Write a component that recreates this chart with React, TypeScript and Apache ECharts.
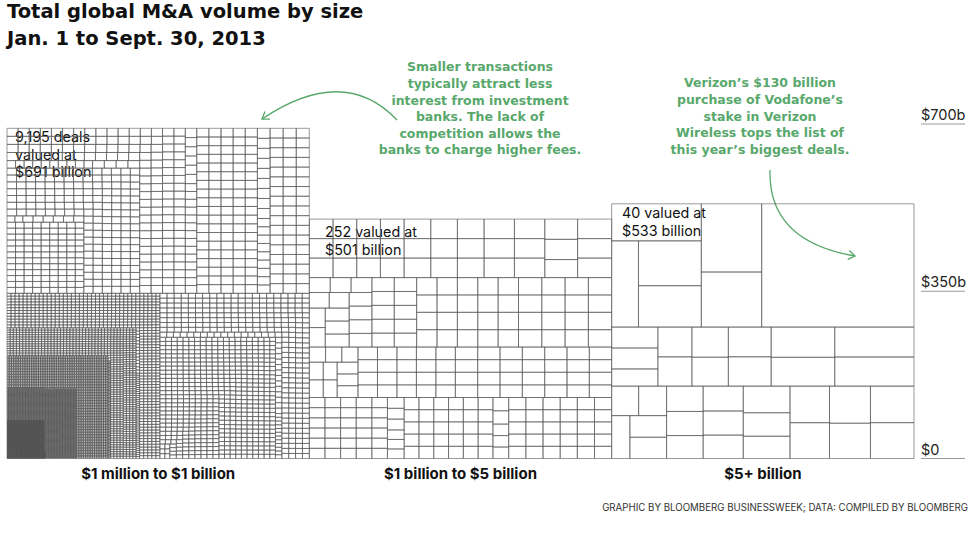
import { useEffect, useRef } from 'react'
import * as echarts from 'echarts'

const FONT = 'Inter, "Liberation Sans", Arial, sans-serif'
const WIDE = '"DejaVu Sans", Verdana, sans-serif'
const GREEN = '#58a86c'

const blockNames = ['$1 million to $1 billion', '$1 billion to $5 billion', '$5+ billion']
const blockTotals = [691, 501, 533]
const blockLabels = ['9,195 deals\nvalued at\n$691 billion', '252 valued at\n$501 billion', '40 valued at\n$533 billion']

// deals under $1b: typical size ($b) per size band, and number of deals in it
const smallDealSizes = [0.88, 0.73, 0.62, 0.45, 0.35, 0.24, 0.165, 0.08, 0.05, 0.025, 0.012, 0.004]
const smallDealCounts = [60, 110, 150, 180, 110, 300, 600, 700, 900, 1600, 2000, 2485]

// deals of $1b to $5b
const midDealSizes = [4.6, 4.1, 3.6, 3.2, 2.8, 2.45, 2.15, 1.95, 1.7, 1.45, 1.25, 1.1]
const midDealCounts = [5, 7, 9, 12, 16, 20, 24, 28, 30, 32, 36, 33]

// the 40 deals of $5b and more, read one by one, band by band from the top
const largeDealsTop = [130, 28.5, 23, 23, 19.5, 18, 16]
const largeDealsMiddle = [16.4, 16, 13.3, 12.7, 8.8, 8.7, 7.6, 7.3, 7, 6.9, 6.7, 6.7, 5.5]
const largeDealsBottom = [11, 10.8, 10.5, 10, 10, 9.8, 8.6, 7.6, 7.2, 6.9, 6.7, 6.5, 6.4, 6.1, 5.8, 5.7, 5.5, 5.5, 5.4, 5.4]

const yTicks = [0, 350, 700]
const yTickLabels = ['$0', '$350b', '$700b']

const expand = (sizes: number[], counts: number[]) =>
  sizes.flatMap((s, i) => Array(counts[i]).fill(s) as number[])
const desc = (d: number[]) => [...d].sort((a, b) => b - a)
const within = (d: number[], lo: number, hi: number) => desc(d.filter((v) => v >= lo && v < hi))
const sum = (d: number[]) => d.reduce((a, b) => a + b, 0)

const smallDeals = expand(smallDealSizes, smallDealCounts)
const midDeals = expand(midDealSizes, midDealCounts)

// block -> horizontal bands -> side-by-side groups -> deals, as the picture groups them
const blockRows: number[][][][] = [
  [[within(smallDeals, 0.3, 1)], [within(smallDeals, 0, 0.1), within(smallDeals, 0.1, 0.3)]],
  [[within(midDeals, 3, 5)], [within(midDeals, 2.1, 3)], [within(midDeals, 1.6, 2.1)], [within(midDeals, 1, 1.6)]],
  [[desc(largeDealsTop)], [desc(largeDealsMiddle)], [desc(largeDealsBottom)]],
]
const blockDeals = blockRows.map((rows) => rows.flat(2))

type Cell = { x: number; y: number; w: number; h: number }

// squarified treemap aiming at brick-shaped cells: big cells top-right, small ones bottom-left
function squarify(values: number[], x0: number, y0: number, W: number, H: number, target: number): Cell[] {
  const k = (W * H) / sum(values)
  const areas = values.map((v) => v * k)
  const cells: Cell[] = []
  let x = x0
  let y = y0
  let w = W
  let h = H
  let i = 0
  const bad = (r: number) => (r > 1 ? r : 1 / r)
  const worst = (first: number, last: number, s: number, column: boolean) => {
    if (column) {
      const cw = s / h
      return Math.max(bad((cw * cw) / first / target), bad((cw * cw) / last / target))
    }
    const rh = s / w
    return Math.max(bad(first / (rh * rh) / target), bad(last / (rh * rh) / target))
  }
  while (i < areas.length) {
    const column = w > h
    let j = i + 1
    let s = areas[i]
    let best = worst(areas[i], areas[i], s, column)
    while (j < areas.length) {
      const next = worst(areas[i], areas[j], s + areas[j], column)
      if (next > best) break
      best = next
      s += areas[j]
      j++
    }
    if (column) {
      const cw = s / h
      let cy = y
      for (let n = i; n < j; n++) {
        const ch = areas[n] / cw
        cells.push({ x: x + w - cw, y: cy, w: cw, h: ch })
        cy += ch
      }
      w -= cw
    } else {
      const rh = s / w
      let cx = x + w
      for (let n = i; n < j; n++) {
        const cw = areas[n] / rh
        cx -= cw
        cells.push({ x: cx, y, w: cw, h: rh })
      }
      y += rh
      h -= rh
    }
    i = j
  }
  return cells
}

const layoutCache: Record<string, Cell[]> = {}
function getLayout(block: number, W: number, H: number) {
  const key = `${block}:${W.toFixed(2)}:${H.toFixed(2)}`
  if (!layoutCache[key]) {
    const rows = blockRows[block]
    const total = sum(rows.map((r) => sum(r.map(sum))))
    const cells: Cell[] = []
    let y = 0
    for (const row of rows) {
      const rowSum = sum(row.map(sum))
      const rh = (H * rowSum) / total
      let x = 0
      for (const g of row) {
        const gw = (W * sum(g)) / rowSum
        cells.push(...squarify(g, x, y, gw, rh, 1.4))
        x += gw
      }
      y += rh
    }
    layoutCache[key] = cells
  }
  return layoutCache[key]
}

const renderDeal = (params: any, api: any) => {
  const b = api.value(0) as number
  const [ux, uy] = api.size([1, 1]) as number[]
  const cells = getLayout(b, ux, uy * blockTotals[b])
  const c = cells[params.dataIndex]
  const origin = api.coord([b, blockTotals[b]])
  return {
    type: 'rect',
    silent: true,
    shape: { x: origin[0] + c.x, y: origin[1] + c.y, width: c.w, height: c.h },
    style: { fill: 'rgba(0,0,0,0)', stroke: '#555', lineWidth: 0.6 },
  }
}

const renderTick = (params: any, api: any) => {
  const p = api.coord([3, api.value(1)])
  const x = p[0] + 7
  return {
    type: 'group',
    silent: true,
    children: [
      { type: 'line', shape: { x1: x, y1: p[1], x2: x + 44, y2: p[1] }, style: { stroke: '#999', lineWidth: 1 } },
      {
        type: 'text',
        x,
        y: p[1] - 2,
        style: {
          text: yTickLabels[params.dataIndex],
          fill: '#222',
          font: `14.5px ${FONT}`,
          textAlign: 'left',
          textVerticalAlign: 'bottom',
        },
      },
    ],
  }
}

function arrowHead(tip: number[], from: number[], len = 8, spread = 0.6) {
  const a = Math.atan2(from[1] - tip[1], from[0] - tip[0])
  return [
    [tip[0] + len * Math.cos(a + spread), tip[1] + len * Math.sin(a + spread)],
    tip,
    [tip[0] + len * Math.cos(a - spread), tip[1] + len * Math.sin(a - spread)],
  ]
}

const App = () => {
  const chartRef = useRef<HTMLDivElement>(null)

  useEffect(() => {
    if (!chartRef.current) return
    const chart = echarts.init(chartRef.current, undefined, { renderer: 'svg' })

    const option = {
      animation: false,
      grid: { left: 7, right: 56, top: 124, bottom: 91.5 },
      xAxis: {
        type: 'value',
        min: 0,
        max: 3,
        interval: 0.5,
        axisLine: { show: false },
        axisTick: { show: false },
        splitLine: { show: false },
        axisLabel: {
          formatter: (v: number) => (v % 1 === 0.5 ? blockNames[Math.floor(v)] : ''),
          color: '#111',
          fontWeight: 'bold',
          fontSize: 15,
          fontFamily: FONT,
          margin: 7,
        },
      },
      yAxis: { type: 'value', show: false, min: 0, max: 700, interval: 350 },
      series: [
        ...blockDeals.map((d, b) => ({
          type: 'custom',
          coordinateSystem: 'cartesian2d',
          data: d.map((v) => [b, v]),
          renderItem: renderDeal,
          progressive: 0,
          silent: true,
        })),
        {
          type: 'custom',
          coordinateSystem: 'cartesian2d',
          data: yTicks.map((v) => [3, v]),
          renderItem: renderTick,
          silent: true,
          clip: false,
        },
      ],
      graphic: [
        {
          type: 'text',
          x: 7,
          y: -1.4,
          style: {
            text: 'Total global M&A volume by size\nJan. 1 to Sept. 30, 2013',
            font: `bold 19.5px ${WIDE}`,
            fill: '#111',
            lineHeight: 26.7,
            textVerticalAlign: 'top',
          },
        },
        {
          type: 'text',
          x: 480,
          y: 58.7,
          style: {
            text: 'Smaller transactions\ntypically attract less\ninterest from investment\nbanks. The lack of\ncompetition allows the\nbanks to charge higher fees.',
            font: `bold 12.5px ${WIDE}`,
            fill: GREEN,
            lineHeight: 16.6,
            textAlign: 'center',
            textVerticalAlign: 'top',
          },
        },
        {
          type: 'text',
          x: 760,
          y: 74.4,
          style: {
            text: "Verizon\u2019s $130 billion\npurchase of Vodafone\u2019s\nstake in Verizon\nWireless tops the list of\nthis year\u2019s biggest deals.",
            font: `bold 12.5px ${WIDE}`,
            fill: GREEN,
            lineHeight: 16.7,
            textAlign: 'center',
            textVerticalAlign: 'top',
          },
        },
        {
          type: 'bezierCurve',
          shape: { x1: 397, y1: 120, cpx1: 344, cpy1: 64, x2: 262, y2: 119 },
          style: { stroke: GREEN, lineWidth: 1.3, fill: null },
        },
        {
          type: 'polyline',
          shape: { points: arrowHead([262, 119], [344, 64]) },
          style: { stroke: GREEN, lineWidth: 1.3, fill: null },
        },
        {
          type: 'bezierCurve',
          shape: { x1: 770, y1: 170, cpx1: 768, cpy1: 241, x2: 855, y2: 256 },
          style: { stroke: GREEN, lineWidth: 1.3, fill: null },
        },
        {
          type: 'polyline',
          shape: { points: arrowHead([855, 256], [768, 241]) },
          style: { stroke: GREEN, lineWidth: 1.3, fill: null },
        },
        ...blockLabels.map((t, i) => ({
          type: 'text',
          x: [15, 325, 622][i],
          y: [128, 223, 204][i],
          style: { text: t, font: `14.3px ${FONT}`, fill: '#111', lineHeight: 17.4, textVerticalAlign: 'top' },
        })),
        {
          type: 'text',
          x: 968,
          y: 507,
          style: {
            text: 'GRAPHIC BY BLOOMBERG BUSINESSWEEK; DATA: COMPILED BY BLOOMBERG',
            font: `9.7px ${FONT}`,
            fill: '#333',
            textAlign: 'right',
            textVerticalAlign: 'middle',
          },
        },
      ],
    }

    chart.setOption(option as any)
    return () => chart.dispose()
  }, [])

  return <div ref={chartRef} style={{ position: 'fixed', left: 0, top: 0, width: 970, height: 550, background: '#fff' }} />
}

export default App
